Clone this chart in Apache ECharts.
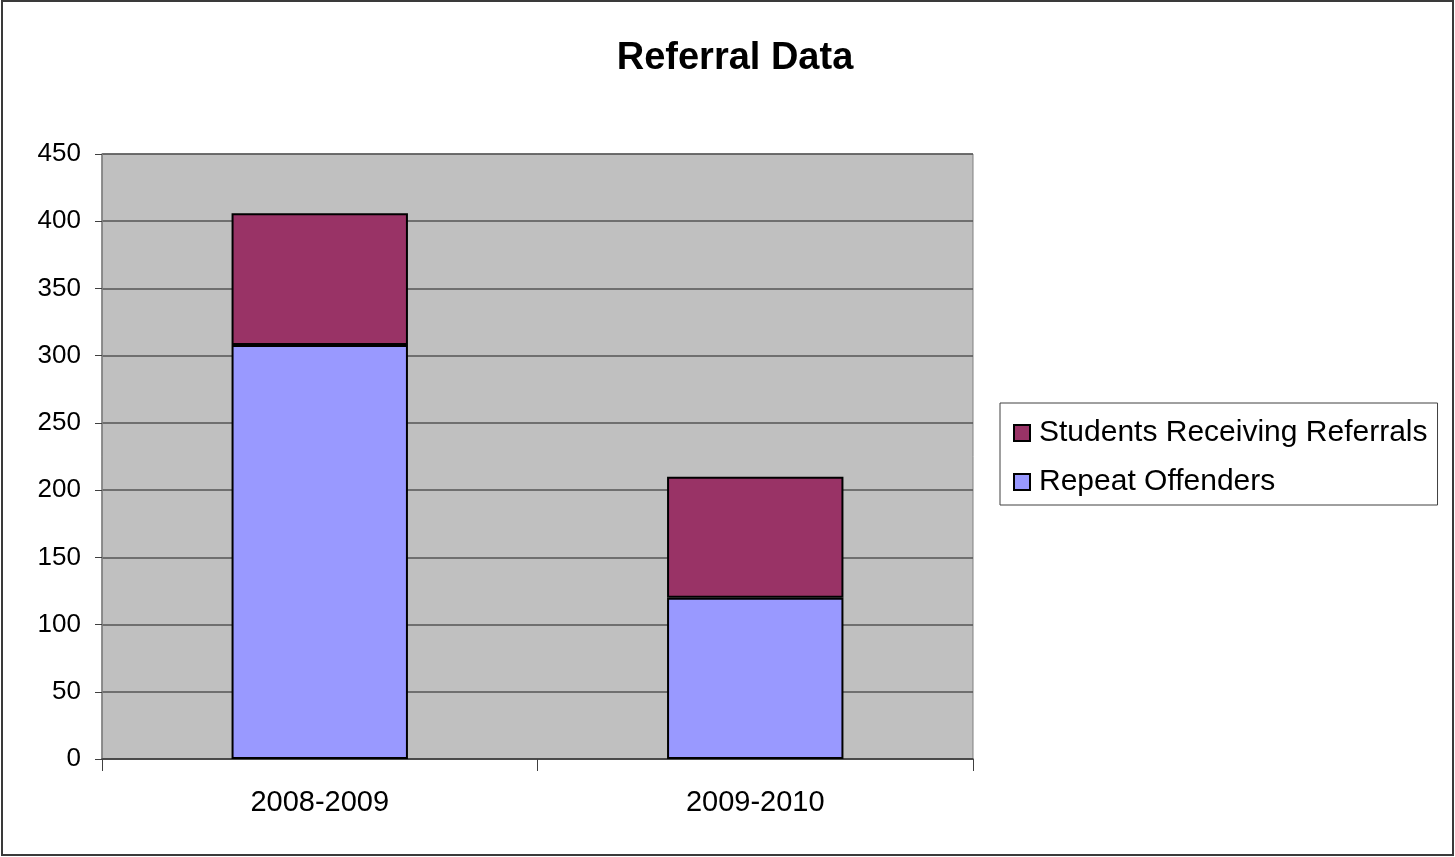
<!DOCTYPE html>
<html>
<head>
<meta charset="utf-8">
<title>Referral Data</title>
<script src="https://cdn.jsdelivr.net/npm/echarts@6/dist/echarts.min.js"></script>
<style>
  html, body { margin: 0; padding: 0; background: #ffffff; }
  #chart { width: 1455px; height: 857px; }
</style>
</head>
<body>
<div id="chart"></div>
<script>
// School years on the category axis
const years = ['2008-2009', '2009-2010'];
// Stacked segments: repeat offenders at the bottom, remaining referred students on top
const repeatOffenders = [308, 120];
const studentsReceivingReferrals = [98, 90];
// Value axis range
const yMin = 0;
const yMax = 450;
const yStep = 50;

const FONT = '"Liberation Sans", Arial, sans-serif';

const chart = echarts.init(document.getElementById('chart'), null, { renderer: 'canvas' });

chart.setOption({
  animation: false,
  backgroundColor: '#ffffff',
  textStyle: { fontFamily: FONT },
  graphic: [
    {
      type: 'rect',
      shape: { x: 2, y: 1, width: 1451, height: 854 },
      style: { fill: null, stroke: '#3a3a3a', lineWidth: 2 },
      silent: true
    }
  ],
  title: {
    text: 'Referral Data',
    left: 730,
    top: 35,
    textAlign: 'center',
    textStyle: { fontFamily: FONT, fontWeight: 'bold', fontSize: 38, color: '#000000' }
  },
  legend: {
    orient: 'vertical',
    left: 1000,
    top: 403,
    data: ['Students Receiving Referrals', 'Repeat Offenders'],
    icon: 'rect',
    itemWidth: 16,
    itemHeight: 16,
    itemGap: 19,
    padding: [15, 10, 8, 13],
    borderColor: '#404040',
    borderWidth: 1,
    backgroundColor: '#ffffff',
    textStyle: { fontFamily: FONT, fontSize: 30, color: '#000000', padding: [0, 0, 0, 4] }
  },
  grid: {
    left: 102,
    top: 154,
    right: 482,
    bottom: 98,
    show: true,
    backgroundColor: '#C0C0C0',
    borderColor: '#808080',
    borderWidth: 1,
    containLabel: false
  },
  xAxis: {
    type: 'category',
    data: years,
    boundaryGap: true,
    axisLine: { show: true, lineStyle: { color: '#404040', width: 1.5 } },
    axisTick: { show: true, interval: 0, length: 12, alignWithLabel: false, lineStyle: { color: '#404040', width: 1 } },
    axisLabel: { fontFamily: FONT, fontSize: 29, color: '#000000', margin: 29, interval: 0 },
    splitLine: { show: false }
  },
  yAxis: {
    type: 'value',
    min: yMin,
    max: yMax,
    interval: yStep,
    axisLine: { show: true, lineStyle: { color: '#808080', width: 1.5 } },
    axisTick: { show: true, length: 7, lineStyle: { color: '#404040', width: 1 } },
    axisLabel: { fontFamily: FONT, fontSize: 26, color: '#000000', margin: 21 },
    splitLine: { show: true, lineStyle: { color: '#555555', width: 1.5 } }
  },
  series: [
    {
      name: 'Repeat Offenders',
      type: 'bar',
      stack: 'total',
      data: repeatOffenders,
      barWidth: '40.5%',
      itemStyle: { color: '#9999FF', borderColor: '#000000', borderWidth: 2 }
    },
    {
      name: 'Students Receiving Referrals',
      type: 'bar',
      stack: 'total',
      data: studentsReceivingReferrals,
      barWidth: '40.5%',
      itemStyle: { color: '#993366', borderColor: '#000000', borderWidth: 2 }
    }
  ]
});
</script>
</body>
</html>
